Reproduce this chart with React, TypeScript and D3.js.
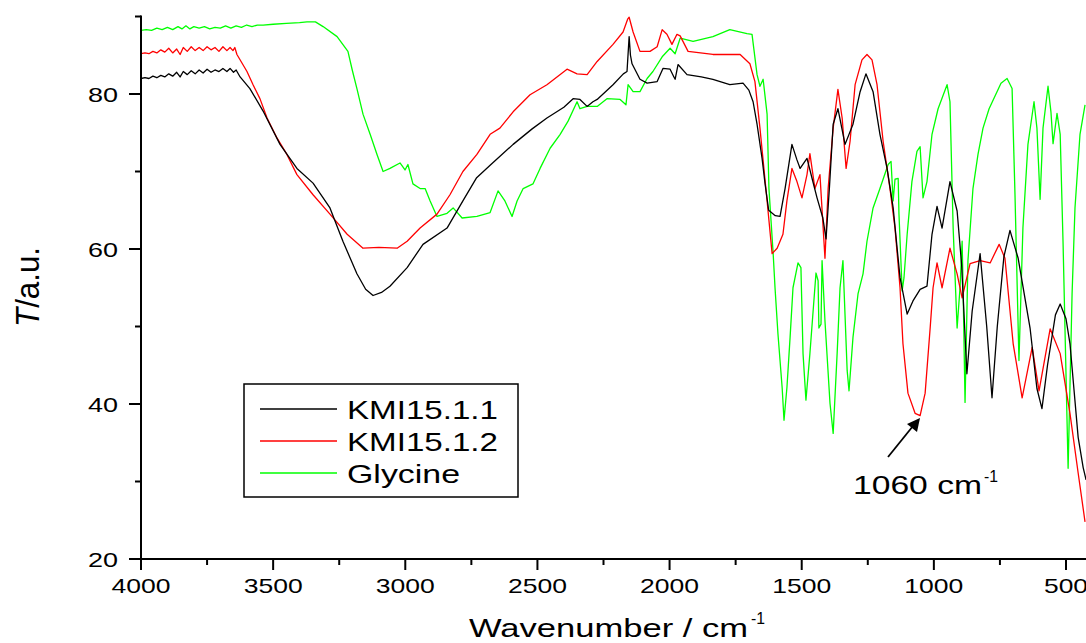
import React from 'react';
import * as d3 from 'd3';

// FTIR spectra: [wavenumber (cm-1), T (a.u.)]
const kmi1511: [number, number][] = [
  [4000, 82.0], [3985, 82.1], [3970, 82.0], [3955, 82.3], [3940, 82.1], [3925, 82.4], [3910, 82.2],
  [3895, 82.6], [3880, 82.3], [3865, 82.8], [3852, 82.2], [3840, 82.9], [3825, 82.5], [3810, 83.0],
  [3795, 82.6], [3780, 83.1], [3765, 82.7], [3750, 83.2], [3735, 82.8], [3720, 83.1], [3705, 82.9],
  [3690, 83.3], [3675, 82.9], [3663, 83.3], [3650, 82.8], [3640, 83.1], [3625, 82.2], [3588, 80.7],
  [3538, 77.8], [3474, 73.5], [3410, 70.4], [3349, 68.5], [3285, 65.3], [3236, 61.0], [3183, 56.8],
  [3150, 54.8], [3122, 54.0], [3090, 54.4], [3058, 55.2], [2993, 57.6], [2933, 60.6], [2842, 62.7],
  [2782, 66.2], [2730, 69.2], [2679, 70.8], [2592, 73.5], [2520, 75.5], [2464, 76.9], [2400, 78.3],
  [2365, 79.4], [2339, 79.3], [2312, 78.4], [2290, 79.0], [2274, 79.3], [2214, 81.2], [2175, 82.6],
  [2161, 82.9], [2153, 87.4], [2148, 85.0], [2142, 83.9], [2112, 81.9], [2085, 81.4], [2047, 81.6],
  [2025, 83.3], [1998, 83.2], [1985, 82.3], [1979, 81.9], [1968, 83.8], [1934, 82.5], [1880, 82.2],
  [1836, 81.9], [1772, 81.2], [1722, 81.4], [1700, 80.5], [1684, 79.0], [1669, 76.1], [1650, 71.7],
  [1639, 68.5], [1625, 65.0], [1600, 64.3], [1582, 64.2], [1563, 67.8], [1537, 73.5], [1518, 71.5],
  [1506, 70.4], [1480, 71.7], [1460, 69.0], [1442, 66.6], [1420, 64.0], [1408, 61.3], [1395, 68.0],
  [1381, 76.1], [1363, 78.1], [1336, 73.5], [1306, 76.1], [1279, 80.3], [1257, 82.6], [1230, 80.3],
  [1204, 74.8], [1177, 70.4], [1154, 65.3], [1128, 56.3], [1101, 51.6], [1079, 53.3], [1052, 54.8],
  [1026, 55.2], [1007, 61.9], [988, 65.5], [969, 62.7], [939, 68.7], [912, 64.9], [895, 58.0],
  [875, 43.9], [855, 52.0], [825, 59.4], [800, 50.0], [780, 40.8], [760, 50.0], [735, 59.0],
  [712, 62.4], [681, 58.8], [636, 49.8], [610, 42.0], [591, 39.4], [570, 45.0], [540, 51.5],
  [522, 52.9], [500, 51.0], [485, 47.8], [454, 35.7], [435, 31.8], [424, 30.2],
];

const kmi1512: [number, number][] = [
  [4000, 85.2], [3985, 85.3], [3970, 85.2], [3955, 85.5], [3940, 85.3], [3925, 85.7], [3910, 85.4],
  [3895, 85.9], [3880, 85.3], [3865, 85.8], [3852, 85.1], [3840, 86.0], [3825, 85.5], [3810, 86.1],
  [3795, 85.6], [3780, 86.0], [3765, 85.6], [3750, 86.1], [3735, 85.7], [3720, 86.0], [3705, 85.5],
  [3690, 86.1], [3675, 85.6], [3663, 86.0], [3652, 85.6], [3645, 86.0], [3637, 85.1], [3599, 82.9],
  [3576, 81.2], [3550, 79.4], [3523, 76.9], [3485, 74.3], [3448, 72.2], [3410, 69.6], [3349, 67.0],
  [3285, 64.5], [3220, 61.9], [3160, 60.1], [3100, 60.2], [3031, 60.1], [2993, 61.0], [2944, 62.7],
  [2880, 64.5], [2831, 67.0], [2782, 70.0], [2729, 72.2], [2679, 74.8], [2642, 75.6], [2592, 77.7],
  [2528, 79.9], [2464, 81.2], [2388, 83.2], [2350, 82.6], [2312, 82.5], [2274, 84.2], [2214, 86.4],
  [2176, 88.0], [2158, 89.7], [2153, 89.9], [2138, 88.0], [2112, 85.5], [2074, 85.5], [2047, 86.1],
  [2028, 88.3], [2010, 87.7], [1991, 86.4], [1972, 87.7], [1960, 87.5], [1930, 85.5], [1836, 85.1],
  [1733, 85.1], [1696, 83.9], [1677, 81.6], [1658, 75.6], [1631, 66.2], [1612, 59.4], [1593, 60.1],
  [1571, 61.9], [1556, 66.2], [1537, 70.4], [1518, 68.7], [1499, 66.6], [1480, 69.6], [1469, 72.3],
  [1450, 67.8], [1431, 69.6], [1412, 58.8], [1400, 67.8], [1381, 75.6], [1363, 80.6], [1347, 76.9],
  [1332, 70.4], [1317, 73.9], [1298, 81.2], [1272, 84.4], [1253, 85.1], [1234, 84.4], [1215, 81.2],
  [1192, 73.9], [1166, 67.8], [1147, 62.7], [1128, 55.0], [1117, 47.8], [1098, 41.4], [1071, 38.8],
  [1052, 38.5], [1033, 41.4], [1014, 49.8], [1003, 55.0], [988, 58.2], [969, 55.0], [939, 60.1],
  [912, 56.8], [893, 53.7], [863, 58.1], [825, 58.5], [787, 58.2], [753, 60.6], [731, 58.8],
  [700, 47.8], [666, 40.8], [628, 47.3], [602, 41.7], [560, 49.7], [522, 46.5], [485, 38.8],
  [454, 31.1], [428, 24.8],
];

const glycine: [number, number][] = [
  [4000, 88.2], [3980, 88.3], [3960, 88.2], [3940, 88.5], [3920, 88.3], [3900, 88.6], [3880, 88.3],
  [3860, 88.7], [3845, 88.4], [3830, 88.8], [3815, 88.4], [3800, 88.7], [3780, 88.5], [3760, 88.7],
  [3740, 88.4], [3720, 88.6], [3700, 88.5], [3680, 88.8], [3660, 88.5], [3640, 88.8], [3620, 88.6],
  [3600, 88.9], [3580, 88.7], [3560, 88.9], [3538, 88.9], [3500, 89.0], [3450, 89.1], [3400, 89.2],
  [3372, 89.3], [3340, 89.3], [3311, 88.7], [3258, 87.4], [3217, 85.5], [3200, 83.0], [3183, 80.7],
  [3160, 77.4], [3133, 74.8], [3107, 72.2], [3084, 70.0], [3058, 70.4], [3020, 71.1], [3001, 70.2],
  [2990, 70.9], [2971, 68.4], [2944, 67.8], [2925, 67.8], [2906, 66.2], [2880, 64.2], [2842, 64.6],
  [2819, 65.3], [2785, 64.0], [2729, 64.2], [2679, 64.7], [2649, 67.5], [2623, 66.2], [2596, 64.2],
  [2577, 66.2], [2554, 67.8], [2517, 68.4], [2490, 70.4], [2452, 73.0], [2414, 74.8], [2384, 76.5],
  [2350, 79.0], [2339, 78.1], [2312, 78.4], [2274, 78.4], [2237, 79.4], [2187, 79.3], [2165, 78.6],
  [2157, 81.2], [2138, 80.3], [2112, 80.3], [2085, 82.0], [2063, 82.9], [2028, 84.8], [1998, 85.9],
  [1979, 85.2], [1960, 87.2], [1911, 86.8], [1836, 87.4], [1772, 88.3], [1707, 87.8], [1688, 87.7],
  [1669, 82.5], [1658, 81.0], [1646, 81.9], [1631, 77.4], [1624, 67.8], [1608, 59.4], [1601, 55.0],
  [1590, 49.1], [1574, 42.1], [1567, 37.9], [1556, 42.1], [1544, 48.6], [1533, 55.0], [1514, 58.2],
  [1503, 57.6], [1495, 46.5], [1484, 40.5], [1469, 46.5], [1446, 56.9], [1438, 55.9], [1435, 49.8],
  [1427, 50.3], [1423, 58.5], [1412, 50.7], [1393, 40.1], [1381, 36.2], [1366, 46.5], [1355, 55.0],
  [1344, 58.5], [1328, 44.3], [1321, 41.7], [1306, 48.6], [1287, 54.2], [1268, 56.8], [1253, 61.0],
  [1230, 65.3], [1204, 67.8], [1173, 70.9], [1162, 71.3], [1154, 66.2], [1147, 69.0], [1135, 69.1],
  [1132, 64.5], [1120, 54.6], [1113, 56.3], [1101, 61.9], [1083, 68.7], [1064, 72.6], [1052, 73.2],
  [1041, 66.6], [1026, 68.7], [1007, 74.8], [984, 78.1], [950, 81.2], [939, 79.0], [927, 62.7],
  [912, 49.8], [901, 55.0], [893, 61.0], [889, 54.2], [882, 40.2], [871, 58.5], [852, 67.8],
  [833, 72.2], [814, 75.6], [791, 78.1], [761, 80.3], [746, 81.4], [723, 82.0], [704, 80.7],
  [693, 67.0], [678, 45.6], [663, 62.7], [644, 73.5], [621, 79.0], [610, 75.6], [598, 66.4],
  [587, 75.6], [568, 81.0], [557, 77.7], [549, 73.6], [534, 77.5], [522, 74.8], [511, 60.6],
  [492, 31.7], [477, 54.2], [466, 65.3], [447, 74.8], [428, 78.6],
];

const seriesNames = ['KMI15.1.1', 'KMI15.1.2', 'Glycine'];
const seriesColors = ['#000000', '#ff0000', '#00ff00'];
const seriesData = [kmi1511, kmi1512, glycine];

const xMajorTicks = [4000, 3500, 3000, 2500, 2000, 1500, 1000, 500];
const xMinorTicks = [3750, 3250, 2750, 2250, 1750, 1250, 750];
const yMajorTicks = [20, 40, 60, 80];
const yMinorTicks = [30, 50, 70, 90];

const W = 1086;
const H = 643;
const left = 141;
const bottom = 559;
const top = 16.5;

const font = '"Liberation Sans", Arial, sans-serif';

export default function App() {
  const x = d3.scaleLinear().domain([4000, 500]).range([left, 1066]);
  const y = d3.scaleLinear().domain([20, 90]).range([bottom, top]);

  const line = d3
    .line<[number, number]>()
    .x(d => x(d[0]))
    .y(d => y(d[1]));

  // order drawn: green under, red, black on top
  const drawOrder = [2, 1, 0];

  return (
    <div style={{ position: 'absolute', left: 0, top: 0 }}>
      <svg width={W} height={H} style={{ display: 'block', background: '#fff' }}>
        <defs>
          <clipPath id="plot">
            <rect x={left} y={0} width={W - left} height={bottom} />
          </clipPath>
        </defs>

        {/* spectra */}
        <g clipPath="url(#plot)">
          {drawOrder.map(i => (
            <path
              key={seriesNames[i]}
              d={line(seriesData[i]) || ''}
              fill="none"
              stroke={seriesColors[i]}
              strokeWidth={1.3}
              strokeLinejoin="round"
            />
          ))}
        </g>

        {/* y axis */}
        <line x1={left} x2={left} y1={y(90) - 1} y2={bottom + 1} stroke="#000" strokeWidth={2} />
        {yMajorTicks.map(v => (
          <g key={'ym' + v}>
            <line x1={left - 12} x2={left} y1={y(v)} y2={y(v)} stroke="#000" strokeWidth={2} />
            <text
              x={118}
              y={y(v) + 7.5}
              textAnchor="end"
              fontFamily={font}
              fontSize={21}
              textLength={30}
              lengthAdjust="spacingAndGlyphs"
            >
              {v}
            </text>
          </g>
        ))}
        {yMinorTicks.map(v => (
          <line key={'yn' + v} x1={left - 6} x2={left} y1={y(v)} y2={y(v)} stroke="#000" strokeWidth={2} />
        ))}

        {/* x axis */}
        <line x1={left - 1} x2={W} y1={bottom} y2={bottom} stroke="#000" strokeWidth={2} />
        {xMajorTicks.map(v => (
          <g key={'xm' + v}>
            <line x1={x(v)} x2={x(v)} y1={bottom} y2={bottom + 11} stroke="#000" strokeWidth={2} />
            <text
              x={x(v)}
              y={593}
              textAnchor="middle"
              fontFamily={font}
              fontSize={21}
              textLength={v >= 1000 ? 59 : 44}
              lengthAdjust="spacingAndGlyphs"
            >
              {v}
            </text>
          </g>
        ))}
        {xMinorTicks.map(v => (
          <line key={'xn' + v} x1={x(v)} x2={x(v)} y1={bottom} y2={bottom + 6} stroke="#000" strokeWidth={2} />
        ))}

        {/* axis titles */}
        <text x={469} y={637} fontFamily={font} fontSize={26} textLength={279} lengthAdjust="spacingAndGlyphs">
          Wavenumber / cm
        </text>
        <text x={751} y={624} fontFamily={font} fontSize={17} textLength={14} lengthAdjust="spacingAndGlyphs">
          -1
        </text>
        <text
          transform="translate(39,287) scale(1.25,1) rotate(-90)"
          textAnchor="middle"
          fontFamily={font}
          fontSize={26}
          textLength={80}
          lengthAdjust="spacingAndGlyphs"
        >
          <tspan fontStyle="italic">T</tspan>/a.u.
        </text>

        {/* legend */}
        <rect x={244} y={384} width={274} height={113} fill="#fff" stroke="#000" strokeWidth={1.5} />
        {seriesNames.map((name, i) => {
          const ly = 409 + i * 32;
          return (
            <g key={'lg' + name}>
              <line x1={260} x2={337} y1={ly} y2={ly} stroke={seriesColors[i]} strokeWidth={1.3} />
              <text
                x={347}
                y={ly + 9.5}
                fontFamily={font}
                fontSize={26}
                textLength={name === 'Glycine' ? 113 : 151}
                lengthAdjust="spacingAndGlyphs"
              >
                {name}
              </text>
            </g>
          );
        })}

        {/* annotation */}
        <line x1={888} y1={457} x2={913} y2={426} stroke="#000" strokeWidth={1.8} />
        <polygon points="920,418 917,432 907,424" fill="#000" />
        <text x={853} y={494} fontFamily={font} fontSize={25} textLength={129} lengthAdjust="spacingAndGlyphs">
          1060 cm
        </text>
        <text x={984} y={482} fontFamily={font} fontSize={16} textLength={14} lengthAdjust="spacingAndGlyphs">
          -1
        </text>
      </svg>
    </div>
  );
}
